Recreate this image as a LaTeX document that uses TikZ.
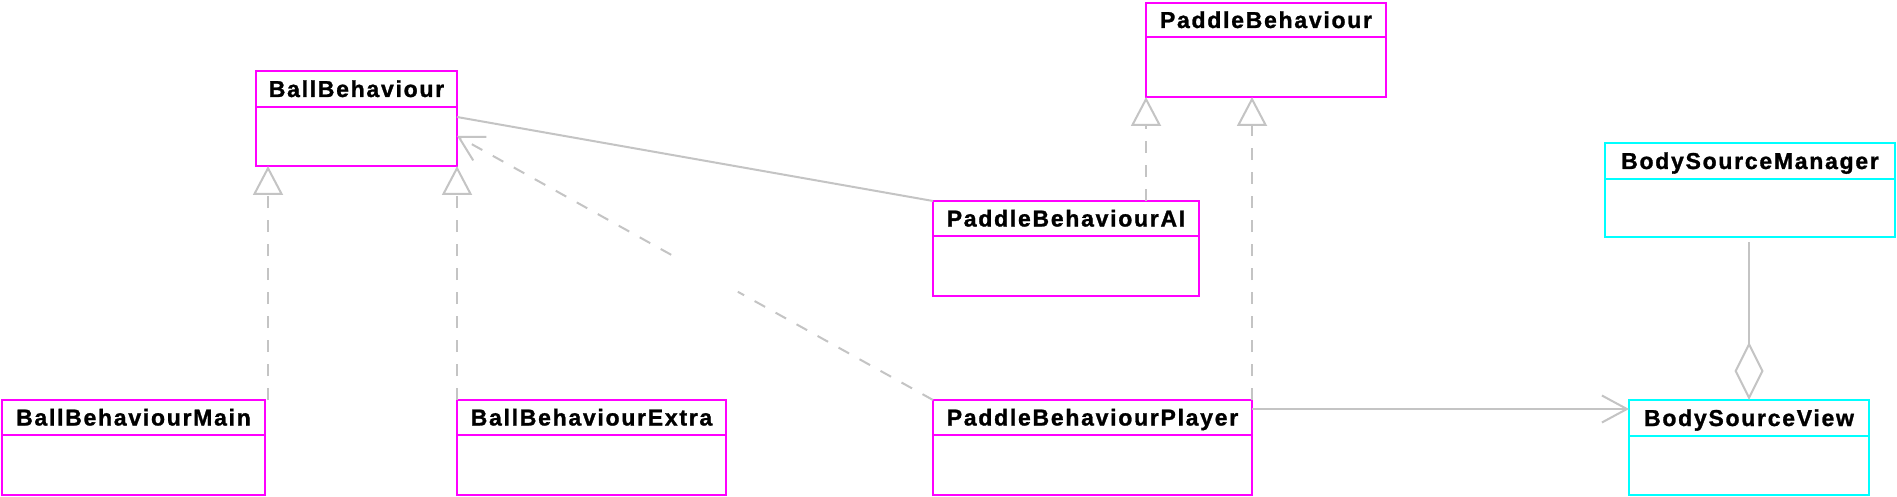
\documentclass[tikz,border=0pt]{standalone}
\usepackage{fontspec}
\newfontfamily\lblfont[LetterSpace=7.5,FakeBold=1.2,UprightFont={Liberation Sans Bold},BoldFont={Liberation Sans Bold}]{Liberation Sans}
\usetikzlibrary{arrows.meta,calc}
\definecolor{umlmag}{RGB}{255,0,255}
\definecolor{umlcyan}{RGB}{0,255,255}
\definecolor{umlgray}{RGB}{196,196,196}
\tikzset{
  classbox/.style={draw, line width=2.5pt, outer sep=0pt, inner sep=0pt, anchor=north west},
  classtitle/.style={anchor=base, inner sep=0pt, text=black, font=\lblfont\fontsize{23}{27}\selectfont},
  conn/.style={draw=umlgray, line width=2pt},
  dashconn/.style={conn, dash pattern=on 12pt off 12pt},
  realize/.style={dashconn, -{Triangle[open, length=29pt, width=30pt]}},
  depend/.style={dashconn, -{Straight Barb[length=24pt, width=27pt]}},
  navig/.style={conn, -{Straight Barb[length=25pt, width=27pt]}},
  aggr/.style={conn, -{Diamond[open, length=58pt, width=29pt]}},
}
\newcommand{\umlclass}[8]{%
  \node[classbox, draw=#8, minimum width=#5pt, minimum height=#6pt] (#1) at (#3,#4) {};
  \draw[draw=#8, line width=2.5pt] ($(#1.north west)+(0,#7)$) -- ($(#1.north east)+(0,#7)$);
  \node[classtitle] (#1-title) at ($(#1.north)+(0,#7/2+8)$) {#2};
}
\begin{document}
\begin{tikzpicture}[x=1pt,y=-1pt]
\useasboundingbox[fill=white] (0,0) rectangle (1897,497);
% classes
\umlclass{bb}{BallBehaviour}{256}{71}{201}{95}{36}{umlmag}
\umlclass{pb}{PaddleBehaviour}{1146}{3}{240}{94}{34}{umlmag}
\umlclass{pai}{PaddleBehaviourAI}{933}{201}{266}{95}{35}{umlmag}
\umlclass{bsm}{BodySourceManager}{1605}{143}{290}{94}{36}{umlcyan}
\umlclass{bbm}{BallBehaviourMain}{2}{400}{263}{95}{35}{umlmag}
\umlclass{bbe}{BallBehaviourExtra}{457}{400}{269}{95}{35}{umlmag}
\umlclass{pbp}{PaddleBehaviourPlayer}{933}{400}{319}{95}{35}{umlmag}
\umlclass{bsv}{BodySourceView}{1629}{400}{240}{95}{36}{umlcyan}
% realizations
\coordinate (bbmtop) at ($(bbm.north east)+(3,0)$);
\draw[realize] (bbmtop) -- (bbmtop |- bb.south);
\draw[realize] (bbe.north west) -- (bb.south east);
\draw[realize] (pai.north -| pb.south west) -- (pb.south west);
\draw[realize] (pbp.north east) -- (pbp.north east |- pb.south);
% association BallBehaviour -- PaddleBehaviourAI
\draw[conn] ($(bb.north east)+(0,46)$) -- (pai.north west);
% dependency PaddleBehaviourPlayer -> BallBehaviour
\coordinate (dep) at ($(bb.north east)+(0,65)$);
\draw[dashconn] (pbp.north west) -- ($(pbp.north west)!0.41!(dep)$);
\draw[depend] ($(pbp.north west)!0.55!(dep)$) -- (dep);
% navigable association
\coordinate (nav) at ($(pbp.north east)+(0,9)$);
\draw[navig] (nav) -- (nav -| bsv.west);
% aggregation
\draw[aggr] ($(bsm.south)+(-1,5)$) -- (bsv.north);
\end{tikzpicture}
\end{document}
